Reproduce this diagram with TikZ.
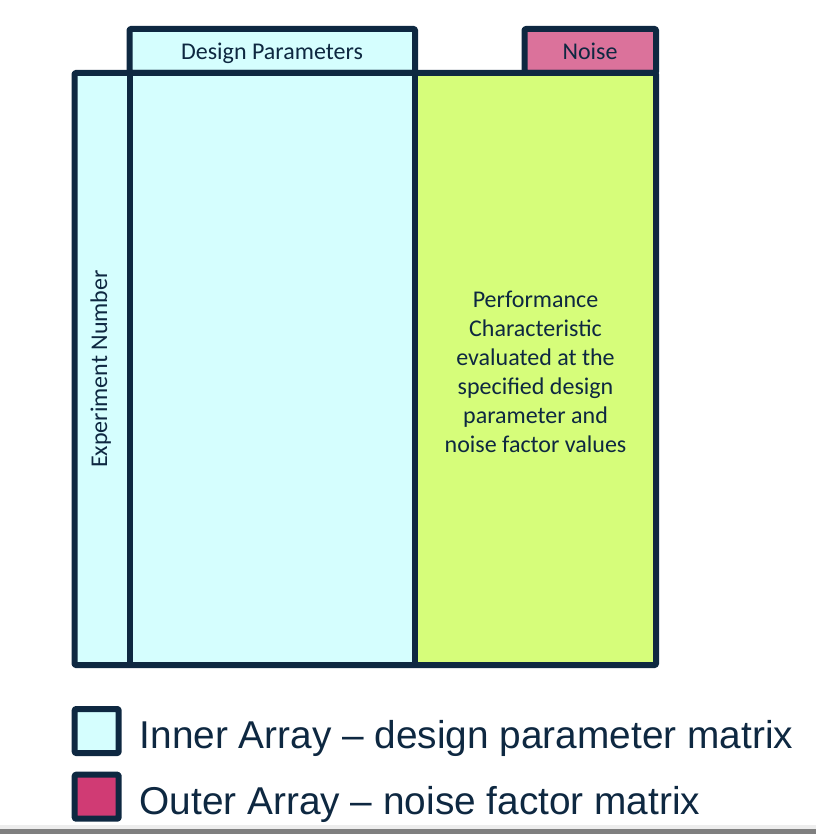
\documentclass[tikz,border=0pt]{standalone}
\usepackage{fontspec}
\setmainfont{Carlito}
\newfontfamily\legendfont{Liberation Sans}
\definecolor{navy}{HTML}{0E2841}
\definecolor{innerfill}{HTML}{D5FEFE}
\definecolor{perffill}{HTML}{D6FD7A}
\definecolor{noisefill}{HTML}{DB729B}
\definecolor{outerfill}{HTML}{D03B74}
\definecolor{stripgray}{HTML}{7F7F7F}
\definecolor{striplight}{HTML}{EDEDED}
\begin{document}
\begin{tikzpicture}[x=1pt,y=-1pt,
  frame/.style={draw=navy,line width=6pt,line join=round,rounded corners=1pt},
  label/.style={text=navy,inner sep=0pt,font=\fontsize{24}{29}\selectfont},
  legendtext/.style={text=navy,inner sep=0pt,anchor=base west,font=\legendfont\fontsize{38.8}{44}\selectfont}]
\useasboundingbox (0,0) rectangle (816,834);

% bottom strip
\fill[striplight] (0,825) rectangle (816,829);
\fill[stripgray] (0,829) rectangle (816,834);

% matrix body
\fill[innerfill] (74.5,73) rectangle (415,665);
\fill[perffill] (415,73) rectangle (656,665);

% column headers
\draw[frame,fill=innerfill] (129.5,73) rectangle (415,29);
\draw[frame,fill=noisefill] (524.5,73) rectangle (656,29);

% outer frame and column dividers
\draw[frame] (74.5,73) rectangle (656,665);
\draw[navy,line width=6pt] (129.5,73) -- (129.5,665);
\draw[navy,line width=6pt] (415,73) -- (415,665);

% texts
\node[label,anchor=base] (design) at (272,60) {Design Parameters};
\node[label,anchor=base] (noise) at (590,60) {Noise};
\node[label,anchor=base,rotate=90] (expnum) at (107,369) {Experiment Number};
\node[label,align=center] (perf) at (535.5,372) {Performance\\Characteristic\\evaluated at the\\specified design\\parameter and\\noise factor values};

% legend
\draw[frame,fill=innerfill] (74.7,709) rectangle (118.7,753);
\draw[frame,fill=outerfill] (74.7,774.7) rectangle (118.7,818.7);
\node[legendtext] (innerleg) at (139.5,748) {Inner Array – design parameter matrix};
\node[legendtext] (outerleg) at (139.5,814) {Outer Array – noise factor matrix};
\end{tikzpicture}
\end{document}
